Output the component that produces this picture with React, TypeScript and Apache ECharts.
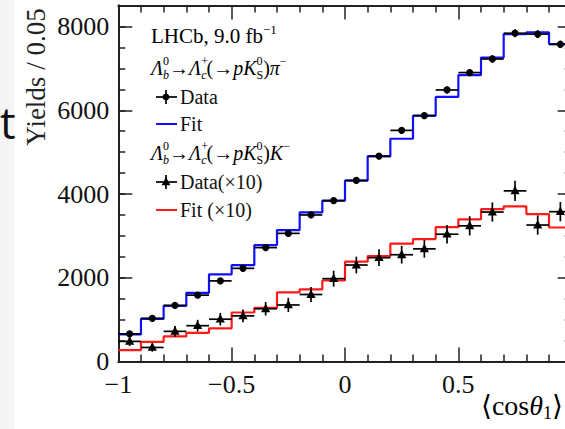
import React, { useEffect, useRef } from "react";
import * as echarts from "echarts";

// ---- data ----
const binCenters = [
  -0.95, -0.85, -0.75, -0.65, -0.55, -0.45, -0.35, -0.25, -0.15, -0.05,
  0.05, 0.15, 0.25, 0.35, 0.45, 0.55, 0.65, 0.75, 0.85, 0.95,
];
const binHalfWidth = 0.05;

const piData = [660, 1030, 1340, 1585, 1925, 2225, 2720, 3060, 3500, 3840, 4325, 4905, 5520, 5870, 6485, 6900, 7225, 7840, 7820, 7575];
const piErr = [30, 35, 40, 45, 50, 50, 55, 60, 65, 65, 70, 75, 80, 80, 85, 85, 90, 95, 95, 90];
const piFit = [645, 1020, 1330, 1640, 2080, 2300, 2780, 3140, 3560, 3840, 4320, 4900, 5320, 5870, 6320, 6840, 7260, 7820, 7860, 7580];

const kData = [480, 335, 720, 855, 1010, 1090, 1260, 1350, 1600, 1978, 2304, 2479, 2550, 2690, 3040, 3240, 3570, 4075, 3259, 3578];
const kErr = [110, 100, 130, 140, 150, 150, 160, 170, 180, 190, 200, 200, 210, 210, 220, 230, 230, 240, 230, 230];
const kFit = [270, 468, 600, 685, 792, 1170, 1280, 1652, 1724, 1935, 2384, 2519, 2815, 2925, 3208, 3395, 3638, 3705, 3522, 3200];

const xMin = -1;
const xMax = 1;
const yMin = 0;
const yMax = 8500;

const SERIF = "'Liberation Serif', 'DejaVu Serif', serif";

function stepPoints(values: number[]) {
  const pts = values.map((v, i) => [binCenters[i] - binHalfWidth, v]);
  const last = values.length - 1;
  pts.push([binCenters[last] + binHalfWidth, values[last]]);
  return pts;
}

function errorSeries(name: string, values: number[], errs: number[], marker: "circle" | "triangle") {
  return {
    name,
    type: "custom",
    xAxisIndex: 0,
    yAxisIndex: 0,
    z: 5,
    data: values.map((v, i) => [binCenters[i], v, errs[i]]),
    renderItem: (params: any, api: any) => {
      const x = api.value(0);
      const y = api.value(1);
      const e = api.value(2);
      const pL = api.coord([x - binHalfWidth, y]);
      const pR = api.coord([x + binHalfWidth, y]);
      const pT = api.coord([x, y + e]);
      const pB = api.coord([x, y - e]);
      const c = api.coord([x, y]);
      const lineStyle = { stroke: "#000", lineWidth: 1.7 };
      const children: any[] = [
        { type: "line", shape: { x1: pL[0], y1: pL[1], x2: pR[0], y2: pR[1] }, style: lineStyle },
        { type: "line", shape: { x1: pT[0], y1: pT[1], x2: pB[0], y2: pB[1] }, style: lineStyle },
      ];
      if (marker === "circle") {
        children.push({ type: "circle", shape: { cx: c[0], cy: c[1], r: 3.6 }, style: { fill: "#000" } });
      } else {
        children.push({
          type: "polygon",
          shape: { points: [[c[0], c[1] - 5], [c[0] - 4.6, c[1] + 3.4], [c[0] + 4.6, c[1] + 3.4]] },
          style: { fill: "#000" },
        });
      }
      return { type: "group", children };
    },
  };
}

function axisCommon(extra: any) {
  return {
    type: "value",
    axisLine: { show: true, onZero: false, lineStyle: { color: "#222", width: 2 } },
    splitLine: { show: false },
    ...extra,
  };
}

const legendX = 156;
const richBase = {
  n: { fontFamily: SERIF, fontSize: 20, color: "#111", lineHeight: 26 },
  i: { fontFamily: SERIF, fontSize: 20, fontStyle: "italic", color: "#111", lineHeight: 26 },
  sup0: { fontFamily: SERIF, fontSize: 12, color: "#111", verticalAlign: "top", lineHeight: 14, width: 0 },
  sup: { fontFamily: SERIF, fontSize: 12, color: "#111", verticalAlign: "top", lineHeight: 14 },
  sub: { fontFamily: SERIF, fontSize: 12, color: "#111", verticalAlign: "bottom", lineHeight: 14 },
  subi: { fontFamily: SERIF, fontSize: 12, fontStyle: "italic", color: "#111", verticalAlign: "bottom", lineHeight: 14 },
};

function legendMarkerData(cy: number, marker: "circle" | "triangle") {
  const cx = legendX + 10;
  const items: any[] = [
    { type: "line", shape: { x1: legendX, y1: cy, x2: legendX + 21, y2: cy }, style: { stroke: "#000", lineWidth: 1.7 } },
    { type: "line", shape: { x1: cx, y1: cy - 7, x2: cx, y2: cy + 7 }, style: { stroke: "#000", lineWidth: 1.7 } },
  ];
  if (marker === "circle") {
    items.push({ type: "circle", shape: { cx, cy, r: 3.4 }, style: { fill: "#000" } });
  } else {
    items.push({
      type: "polygon",
      shape: { points: [[cx, cy - 5], [cx - 4.4, cy + 3.2], [cx + 4.4, cy + 3.2]] },
      style: { fill: "#000" },
    });
  }
  return items;
}

function legendText(y: number, text: string) {
  return {
    type: "text",
    x: legendX + 24,
    y,
    style: { text, fontFamily: SERIF, fontSize: 20, fill: "#111", textVerticalAlign: "middle" },
  };
}

function decayText(y: number, last: string) {
  return {
    type: "text",
    x: 151,
    y,
    style: {
      text: `{i|Λ}{sup0|0}{subi|b}{n|→}{i|Λ}{sup0|+}{subi|c}{n|(→}{i|pK}{sup0|0}{sub|S}{n|)}{i|${last}}{sup|−}`,
      rich: richBase,
      textVerticalAlign: "middle",
    },
  };
}

export default function App() {
  const ref = useRef<HTMLDivElement>(null);

  useEffect(() => {
    if (!ref.current) return;
    const chart = echarts.init(ref.current, null, { renderer: "svg" });

    const tickLabelStyle = { fontFamily: SERIF, fontSize: 26, color: "#111" };

    const option: any = {
      animation: false,
      backgroundColor: "#ffffff",
      grid: { left: 118.3, top: 5.6, right: 28.3, bottom: 67.5, containLabel: false, outerBoundsMode: "none" },
      xAxis: [
        axisCommon({
          min: xMin, max: xMax, interval: 0.5, position: "bottom",
          axisTick: { show: true, inside: true, length: 14, lineStyle: { color: "#222", width: 1.5 } },
          minorTick: { show: true, splitNumber: 5, length: 7, lineStyle: { color: "#222", width: 1.5 } },
          axisLabel: {
            ...tickLabelStyle,
            margin: 10,
            showMaxLabel: false,
            formatter: (v: number) => (v < 0 ? "−" + Math.abs(v) : String(v)),
          },
        }),
        axisCommon({
          min: xMin, max: xMax, interval: 0.5, position: "top",
          axisTick: { show: true, inside: true, length: 14, lineStyle: { color: "#222", width: 1.5 } },
          minorTick: { show: true, splitNumber: 5, length: 7, lineStyle: { color: "#222", width: 1.5 } },
          axisLabel: { show: false },
        }),
      ],
      yAxis: [
        axisCommon({
          min: yMin, max: yMax, interval: 2000, position: "left",
          axisTick: { show: true, inside: true, length: 14, lineStyle: { color: "#222", width: 1.5 } },
          axisLabel: {
            ...tickLabelStyle,
            margin: 9,
            showMaxLabel: false,
            formatter: (v: number) => (v % 2000 === 0 ? String(v) : ""),
          },
        }),
        axisCommon({
          min: yMin, max: yMax, interval: 500, position: "left",
          axisTick: { show: true, inside: true, length: 7, lineStyle: { color: "#222", width: 1.5 } },
          axisLabel: { show: false },
        }),
        axisCommon({
          min: yMin, max: yMax, interval: 2000, position: "right",
          axisTick: { show: true, inside: true, length: 14, lineStyle: { color: "#222", width: 1.5 } },
          axisLabel: { show: false },
        }),
        axisCommon({
          min: yMin, max: yMax, interval: 500, position: "right",
          axisTick: { show: true, inside: true, length: 7, lineStyle: { color: "#222", width: 1.5 } },
          axisLabel: { show: false },
        }),
      ],
      series: [
        {
          name: "Fit",
          type: "line",
          step: "end",
          xAxisIndex: 0,
          yAxisIndex: 0,
          symbol: "none",
          z: 3,
          lineStyle: { color: "#1010ff", width: 2.2 },
          data: stepPoints(piFit),
        },
        {
          name: "Fit (x10)",
          type: "line",
          step: "end",
          xAxisIndex: 0,
          yAxisIndex: 0,
          symbol: "none",
          z: 3,
          lineStyle: { color: "#ff1a1a", width: 2.2 },
          data: stepPoints(kFit),
        },
        errorSeries("Data", piData, piErr, "circle"),
        errorSeries("Data(x10)", kData, kErr, "triangle"),
      ],
      graphic: [
        { type: "rect", shape: { x: 0, y: 0, width: 14, height: 429 }, style: { fill: "#f5f5f5" }, z: 0 },
        {
          type: "text", x: 0, y: 144,
          style: { text: "t", fontFamily: "'Open Sans', 'DejaVu Sans', sans-serif", fontSize: 44, fill: "#111", textVerticalAlign: "bottom" },
        },
        {
          type: "text", x: 36, y: 77, rotation: Math.PI / 2,
          style: { text: "Yields / 0.05", fontFamily: SERIF, fontSize: 27, fill: "#222", textAlign: "center", textVerticalAlign: "middle" },
        },
        {
          type: "text", x: 151, y: 36,
          style: {
            text: "{n|LHCb, 9.0 fb}{sup|−1}",
            rich: { ...richBase, n: { ...richBase.n, fontSize: 21 }, sup: { ...richBase.sup, fontSize: 13 } },
            textVerticalAlign: "middle",
          },
        },
        decayText(68, "π"),
        ...legendMarkerData(97, "circle"),
        legendText(97, "Data"),
        { type: "line", shape: { x1: legendX, y1: 124, x2: legendX + 21, y2: 124 }, style: { stroke: "#1010ff", lineWidth: 2 } },
        legendText(124, "Fit"),
        decayText(153, "K"),
        ...legendMarkerData(182, "triangle"),
        legendText(182, "Data(×10)"),
        { type: "line", shape: { x1: legendX, y1: 210, x2: legendX + 21, y2: 210 }, style: { stroke: "#ff1a1a", lineWidth: 2 } },
        legendText(210, "Fit (×10)"),
        {
          type: "text", x: 481, y: 405,
          style: {
            text: "{n|⟨cos}{i|θ}{s|1}{n|⟩}",
            rich: {
              n: { fontFamily: SERIF, fontSize: 28, color: "#111", lineHeight: 34 },
              i: { fontFamily: SERIF, fontSize: 28, fontStyle: "italic", color: "#111", lineHeight: 34 },
              s: { fontFamily: SERIF, fontSize: 18, color: "#111", verticalAlign: "bottom", lineHeight: 14 },
            },
            textVerticalAlign: "middle",
          },
        },
      ],
    };

    chart.setOption(option);
    return () => chart.dispose();
  }, []);

  return (
    <div style={{ position: "fixed", left: 0, top: 0, width: 565, height: 429, overflow: "hidden", background: "#fff" }}>
      <div ref={ref} style={{ width: 600, height: 429 }} />
    </div>
  );
}
